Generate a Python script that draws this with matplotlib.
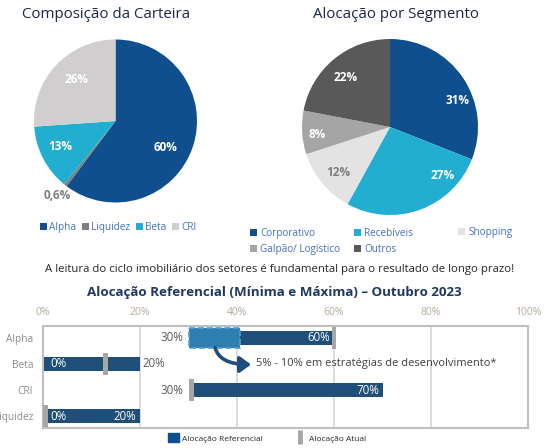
import matplotlib.pyplot as plt
from matplotlib.patches import Patch
from matplotlib.lines import Line2D

plt.rcParams['font.family'] = ['Open Sans', 'DejaVu Sans']

# --- data ---
carteira_labels = ['Alpha', 'Liquidez', 'Beta', 'CRI']
carteira_values = [60, 0.6, 13, 26]
carteira_pct = ['60%', '0,6%', '13%', '26%']

segmento_labels = ['Corporativo', 'Recebíveis', 'Shopping', 'Galpão/ Logístico', 'Outros']
segmento_values = [31, 27, 12, 8, 22]
segmento_pct = ['31%', '27%', '12%', '8%', '22%']

classes = ['Alpha', 'Beta', 'CRI', 'Liquidez']
ref_min = [30, 0, 30, 0]
ref_max = [60, 20, 70, 20]
alocacao_atual = [60, 12.8, 30.6, 0.5]
desenv_range = [30, 40.6]
desenv_text = '5% - 10% em estratégias de desenvolvimento*'
x_ticks = [0, 20, 40, 60, 80, 100]

# --- styles ---
carteira_colors = ['#0f4f8e', '#7f7f7f', '#22aed1', '#d0cece']
segmento_colors = ['#0f4f8e', '#22aed1', '#e3e3e3', '#a5a5a5', '#595959']
title_color = '#1b2645'
legend_text = '#4472c4'
bar_dark = '#1f4e79'
marker_gray = '#a6a6a6'

W, H = 547, 448
fig = plt.figure(figsize=(W / 100, H / 100), dpi=100)


def box(x0, y0, x1, y1):
    return [x0 / W, 1 - y1 / H, (x1 - x0) / W, (y1 - y0) / H]


def fx(x):
    return x / W


def fy(y):
    return 1 - y / H


def draw_pie(rect, values, colors, pct, pct_pos, pct_colors):
    ax = fig.add_axes(rect)
    wedges, texts = ax.pie(values, colors=colors, labels=pct, startangle=90,
                           counterclock=False, radius=1,
                           wedgeprops=dict(linewidth=0),
                           textprops=dict(fontsize=8.5, fontweight='bold'))
    for t, pos, c in zip(texts, pct_pos, pct_colors):
        t.set_position(pos)
        t.set_ha('center')
        t.set_va('center')
        t.set_color(c)
    ax.set_xlim(-1, 1)
    ax.set_ylim(-1, 1)
    return wedges


# pie 1
w1 = draw_pie(box(34, 39, 197, 203), carteira_values, carteira_colors, carteira_pct,
              [(0.61, -0.33), (-0.71, -0.91), (-0.68, -0.31), (-0.48, 0.51)],
              ['white', '#7f7f7f', 'white', 'white'])
fig.text(fx(106), fy(15), 'Composição da Carteira', fontsize=10.8, color=title_color,
         ha='center', va='center')
fig.legend(w1, carteira_labels, loc='center left', bbox_to_anchor=(fx(40), fy(227)),
           ncol=4, frameon=False, fontsize=7.2, labelcolor=legend_text,
           handlelength=0.7, handleheight=0.7, handletextpad=0.2,
           columnspacing=0.6, borderpad=0, borderaxespad=0)

# pie 2
w2 = draw_pie(box(302, 39, 478, 215), segmento_values, segmento_colors, segmento_pct,
              [(0.77, 0.30), (0.60, -0.55), (-0.59, -0.52), (-0.83, -0.08), (-0.51, 0.56)],
              ['white', 'white', '#7f7f7f', 'white', 'white'])
fig.text(fx(396), fy(15), 'Alocação por Segmento', fontsize=10.8, color=title_color,
         ha='center', va='center')
legend_cols = [([0, 3], 250), ([1, 4], 354), ([2], 458)]
for idx, x0 in legend_cols:
    yc = 241 if len(idx) == 2 else 232.7
    fig.legend([w2[i] for i in idx], [segmento_labels[i] for i in idx],
               loc='center left', bbox_to_anchor=(fx(x0), fy(yc)),
               frameon=False, fontsize=7.2, labelcolor=legend_text,
               handlelength=0.7, handleheight=0.7, handletextpad=0.3,
               labelspacing=0.5, borderpad=0, borderaxespad=0)

fig.text(fx(280), fy(269),
         'A leitura do ciclo imobiliário dos setores é fundamental para o resultado de longo prazo!',
         fontsize=8.2, color='#262626', ha='center', va='center')
fig.text(fx(274), fy(292.5), 'Alocação Referencial (Mínima e Máxima) – Outubro 2023',
         fontsize=9.6, fontweight='bold', color='#1f3864', ha='center', va='center')

# --- range chart ---
ax = fig.add_axes(box(43, 326, 528, 428))
ypos = list(range(len(classes)))
ax.barh(ypos, [mx - mn for mn, mx in zip(ref_min, ref_max)], left=ref_min,
        height=0.54, color=bar_dark, zorder=2)
ax.barh(0, desenv_range[1] - desenv_range[0], left=desenv_range[0], height=0.8,
        color='#2c7fae', edgecolor='#5b9bd5', linestyle='--', linewidth=1.2, zorder=3)
ax.barh(ypos, 1.0, left=[a - 0.5 for a in alocacao_atual], height=0.88,
        color=marker_gray, zorder=4)

min_inside = [False, True, False, True]
max_inside = [True, False, True, True]
for i in ypos:
    mn, mx = ref_min[i], ref_max[i]
    if min_inside[i]:
        ax.text(mn + 1.6, i, f'{mn}%', ha='left', va='center', fontsize=8.3, color='white', zorder=5)
    else:
        ax.text(mn - 1.0, i, f'{mn}%', ha='right', va='center', fontsize=8.3, color='#595959', zorder=5)
    if max_inside[i]:
        ax.text(mx - 0.7, i, f'{mx}%', ha='right', va='center', fontsize=8.3, color='white', zorder=5)
    else:
        ax.text(mx + 0.6, i, f'{mx}%', ha='left', va='center', fontsize=8.3, color='#595959', zorder=5)

# curved arrow from the development box to its note
ax.annotate('', xy=(42.9, 1.02), xytext=(35.5, 0.38),
            arrowprops=dict(arrowstyle='-|>,head_length=0.55,head_width=0.4',
                            connectionstyle='angle3,angleA=-75,angleB=0', lw=2.6,
                            color=bar_dark, mutation_scale=12, shrinkA=0, shrinkB=0),
            zorder=6)
ax.text(43.9, 1.0, desenv_text, ha='left', va='center', fontsize=8, color='#404040')

ax.set_xlim(0, 100)
ax.set_ylim(3.46, -0.46)
ax.xaxis.tick_top()
ax.set_xticks(x_ticks, [f'{v}%' for v in x_ticks])
ax.set_yticks(ypos, classes)
ax.tick_params(axis='x', length=0, pad=6, labelcolor='#b8aa9c', labelsize=7.5)
ax.tick_params(axis='y', length=0, pad=7, labelcolor='#8c8c8c', labelsize=7.3)
ax.grid(axis='x', color='#d9d9d9', linewidth=1.3)
ax.set_axisbelow(True)
for s in ax.spines.values():
    s.set_color('#bfbfbf')
    s.set_linewidth(1.5)

fig.legend([Patch(color='#0f4f8e'),
            Line2D([], [], marker='|', ms=9.5, mew=3.5, ls='none', color=marker_gray)],
           ['Alocação Referencial', 'Alocação Atual'],
           loc='center left', bbox_to_anchor=(fx(168), fy(438)), ncol=2, frameon=False,
           fontsize=6, labelcolor='#262626', handlelength=1.3, handleheight=1.2,
           handletextpad=0.4, columnspacing=3.8, borderpad=0, borderaxespad=0)

fig.savefig('out.png', dpi=100)
